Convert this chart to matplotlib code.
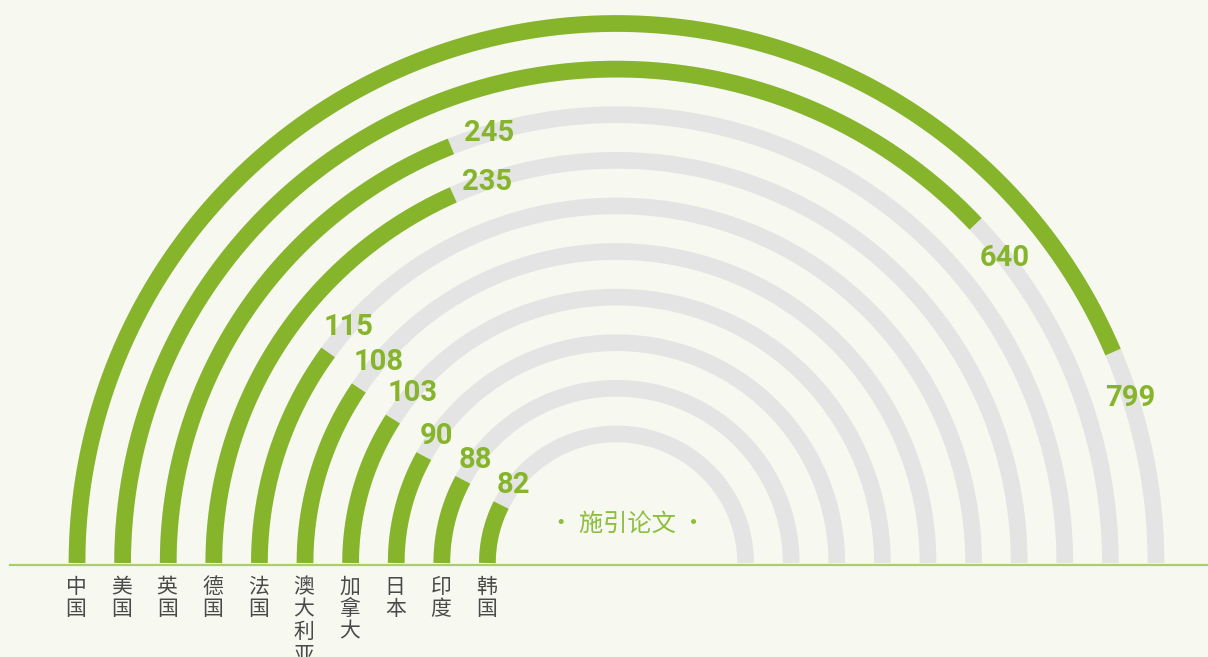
import numpy as np
import matplotlib
matplotlib.use("Agg")
import matplotlib.pyplot as plt

plt.rcParams['font.family'] = ['Noto Sans CJK SC', 'DejaVu Sans']

countries = ["中国", "美国", "英国", "德国", "法国", "澳大利亚", "加拿大", "日本", "印度", "韩国"]
citing_papers = [799, 640, 245, 235, 115, 108, 103, 90, 88, 82]
center_label = "· 施引论文 ·"

GREEN = "#86b52b"
TRACK = "#e4e4e4"
BG = "#f7f9f0"
BASE = "#a9cf68"
TEXT = "#4a4a4a"


def sweep_deg(v):
    # compressed angular scale used by the rings
    return 143.0 * np.log1p(v / 400.0)


W, H = 1208, 657
fig = plt.figure(figsize=(W / 100, H / 100), dpi=100, facecolor=BG)
ax = fig.add_axes([0, 0, 1, 1])
ax.set_facecolor(BG)
ax.set_xlim(0, W)
ax.set_ylim(H, 0)
ax.axis("off")

cx, cy = 616.5, 563.0
r_outer, step = 539.5, 45.6
lw = 16.7 * 72 / 100


def arc_xy(r, a0, a1, n=400):
    t = np.radians(np.linspace(a0, a1, n))
    return cx + r * np.cos(t), cy - r * np.sin(t)


for i, (name, v) in enumerate(zip(countries, citing_papers)):
    r = r_outer - step * i
    x, y = arc_xy(r, 180, 0)
    ax.plot(x, y, color=TRACK, lw=lw, solid_capstyle="butt", zorder=1)
    end = 180 - sweep_deg(v)
    x, y = arc_xy(r, 180, end)
    ax.plot(x, y, color=GREEN, lw=lw, solid_capstyle="butt", zorder=2)

    label = str(v)
    off = max(np.radians(5.2), (9 * len(label) + 6) / r)
    ta = np.radians(end) - off
    ax.text(cx + r * np.cos(ta), cy - r * np.sin(ta), label, color=GREEN,
            fontsize=21, fontweight="bold", family=["Roboto", "DejaVu Sans"],
            ha="center", va="center", zorder=3)

    ax.text(cx - r - 1, 576, "\n".join(name), color=TEXT, fontsize=15,
            ha="center", va="top", linespacing=1.02, zorder=3)

ax.plot([10, W], [565, 565], color=BASE, lw=1.6, zorder=4)

ax.text(627, 524, center_label, color="#8dbd3f", fontsize=17.5,
        ha="center", va="center")

fig.savefig("out.png", dpi=100, facecolor=BG)
